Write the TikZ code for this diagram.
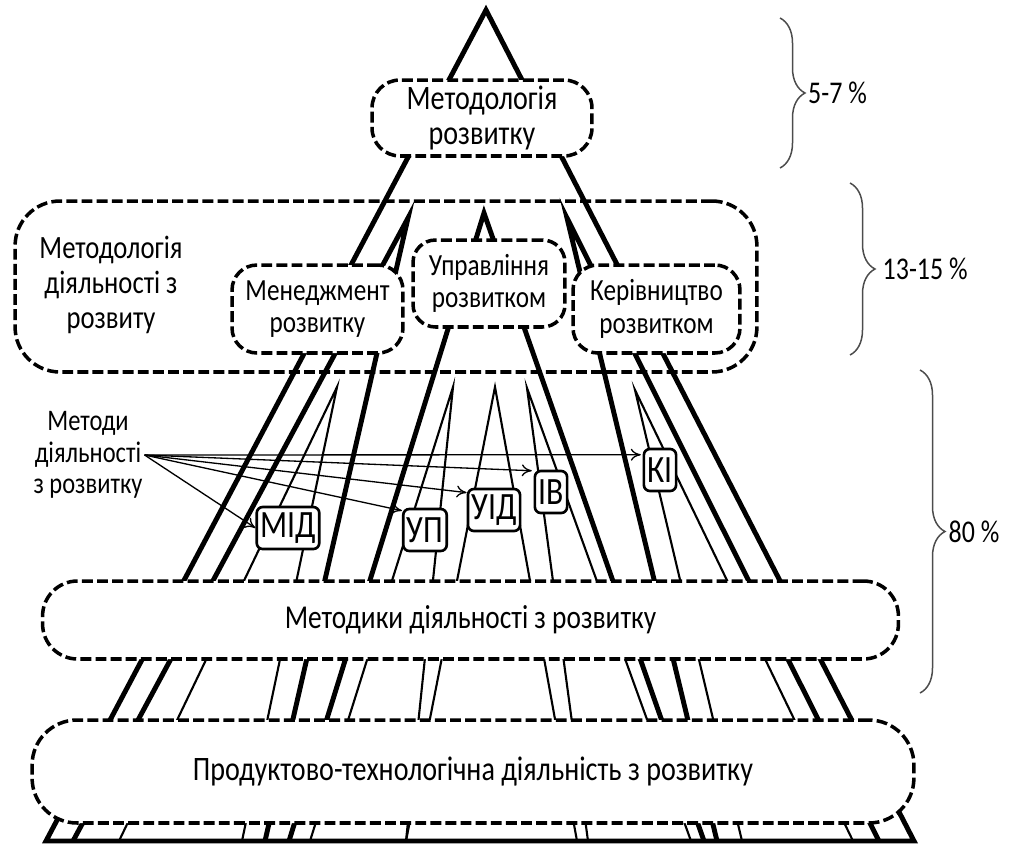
\documentclass[tikz,border=0pt]{standalone}
\usepackage{fontspec}
\setmainfont{Carlito}[FakeStretch=0.82]
\usetikzlibrary{arrows.meta,decorations.pathreplacing}

\begin{document}
\begin{tikzpicture}[x=0.02cm, y=-0.02cm,
	box/.style = {draw, dash pattern=on 6.2pt off 2.4pt, line width=2pt, fill=white, align=center, inner sep=0pt},
	tag/.style = {draw, line width=1.5pt, rounded corners=0.12cm, fill=white, inner xsep=2pt, inner ysep=0pt, minimum height=0.84cm, font=\fontsize{22}{24}\selectfont},
	heavy/.style = {line width=2.8pt},
	light/.style = {line width=1.2pt},
	pointer/.style = {line width=0.75pt, -{To[length=2mm,width=2.4mm]}},
	bracket/.style = {draw=black!70, line width=0.85pt, decorate, decoration={brace, amplitude=0.5cm}},
	pct/.style = {font=\fontsize{18}{20}\selectfont, inner sep=0pt}]
	\useasboundingbox (0,0) rectangle (1015,843);

	\node[box, rounded corners=0.9cm, minimum width=14.84cm, minimum height=3.42cm] (frame) at (386,286.5) {};

	\coordinate (peak) at (486,10);
	\coordinate (left) at (408,218);
	\coordinate (mid) at (484,213);
	\coordinate (right) at (567,218);
	\coordinate (p1) at (337,387);
	\coordinate (p2) at (453,387);
	\coordinate (p3) at (495,387);
	\coordinate (p4) at (527,388);
	\coordinate (p5) at (635,390);

	\draw[heavy] (peak) -- (46,841) -- (914,841) -- cycle;
	\draw[heavy] (73,841) -- (left) -- (265,841);
	\draw[heavy] (289,841) -- (mid) -- (704,841);
	\draw[heavy] (717,841) -- (right) -- (879,841);
	\draw[light] (119,841) -- (p1) -- (242,841);
	\draw[light] (310,841) -- (p2) -- (406,841);
	\draw[light] (406,841) -- (p3) -- (577,841);
	\draw[light] (588,841) -- (p4) -- (691,841);
	\draw[light] (742,841) -- (p5) -- (853,841);

	\node[box, rounded corners=0.56cm, minimum width=4.4cm, minimum height=1.52cm, font=\fontsize{19.5}{19.5}\selectfont] (method) at (482,118) {Методологія\\розвитку};
	\node[align=center, font=\fontsize{18.5}{20}\selectfont] (activity) at (111,285) {Методологія\\діяльності з\\розвиту};
	\node[box, rounded corners=0.5cm, minimum width=3.42cm, minimum height=1.76cm, font=\fontsize{17.5}{18.5}\selectfont] (manage) at (317.5,309) {Менеджмент\\розвитку};
	\node[box, rounded corners=0.45cm, minimum width=3.04cm, minimum height=1.74cm, font=\fontsize{17.5}{18.5}\selectfont] (control) at (489,283.5) {Управління\\розвитком};
	\node[box, rounded corners=0.5cm, minimum width=3.34cm, minimum height=1.76cm, font=\fontsize{17.5}{18.5}\selectfont] (lead) at (656.5,309) {Керівництво\\розвитком};
	\node[box, rounded corners=0.7cm, minimum width=17.12cm, minimum height=1.56cm, font=\fontsize{19}{20}\selectfont] (tech) at (470.5,620) {Методики діяльності з розвитку};
	\node[box, rounded corners=0.9cm, minimum width=17.64cm, minimum height=2.06cm, font=\fontsize{19.5}{20}\selectfont] (prod) at (473,771.5) {Продуктово-технологічна діяльність з розвитку};

	\node[align=center, inner sep=1pt, font=\fontsize{17}{18}\selectfont] (ways) at (88,455) {Методи\\діяльності\\з розвитку};
	\node[tag] (mid) at (288,528) {МІД};
	\node[tag] (up) at (425,530) {УП};
	\node[tag] (uid) at (494,510) {УІД};
	\node[tag] (iv) at (551,492) {ІВ};
	\node[tag] (ki) at (660,470) {КІ};
	\draw[pointer] (ways.east) -- (mid.west);
	\draw[pointer] (ways.east) -- ([yshift=-1.7pt]up.north west);
	\draw[pointer] (ways.east) -- ([yshift=-2.8pt]uid.north west);
	\draw[pointer] (ways.east) -- ([xshift=-1pt,yshift=-0.6pt]iv.north west);
	\draw[pointer] (ways.east) -- ([xshift=-1pt,yshift=-4pt]ki.north west);

	\draw[bracket] (780,18) -- (780,168) node[midway, right=0.55cm, pct] (top) {5-7 \%};
	\draw[bracket] (850,183) -- (850,355) node[midway, right=0.64cm, pct] (upper) {13-15 \%};
	\draw[bracket] (920,370) -- (920,693) node[midway, right=0.56cm, pct] (lower) {80 \%};
\end{tikzpicture}
\end{document}
